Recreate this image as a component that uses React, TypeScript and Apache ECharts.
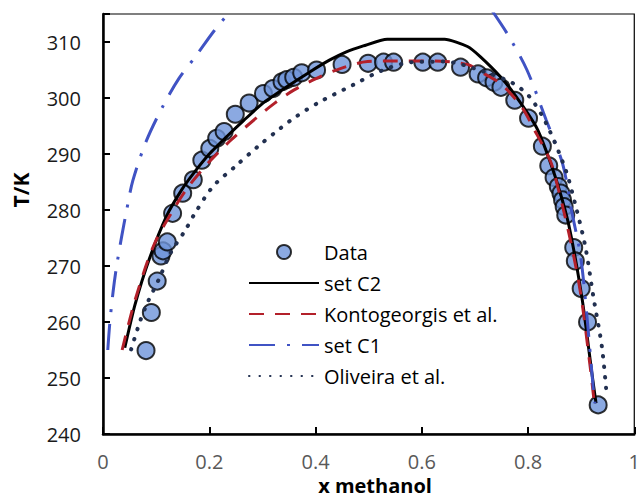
import React, { useEffect, useRef } from "react";
import * as echarts from "echarts";

const xTicks = [0, 0.2, 0.4, 0.6, 0.8, 1];
const yTicks = [240, 250, 260, 270, 280, 290, 300, 310];

const dataPoints: [number, number][] = [
  [0.081, 254.9], [0.091, 261.7], [0.102, 267.3], [0.109, 271.8], [0.113, 272.7],
  [0.121, 274.3], [0.131, 279.4], [0.150, 283.0], [0.170, 285.4], [0.186, 288.9],
  [0.201, 291.0], [0.214, 292.8], [0.228, 294.0], [0.249, 297.1], [0.275, 299.1],
  [0.302, 300.8], [0.320, 301.7], [0.337, 302.9], [0.346, 303.3], [0.359, 303.7],
  [0.374, 304.5], [0.402, 305.0], [0.450, 306.0], [0.499, 306.2], [0.528, 306.4],
  [0.547, 306.4], [0.602, 306.4], [0.630, 306.4], [0.673, 305.5], [0.706, 304.3],
  [0.722, 303.6], [0.736, 302.8], [0.749, 301.9], [0.775, 299.6], [0.801, 296.4],
  [0.827, 291.4], [0.839, 287.9], [0.849, 285.8], [0.857, 284.2], [0.862, 283.0],
  [0.865, 281.8], [0.868, 280.6], [0.871, 279.1], [0.886, 273.3], [0.889, 270.9],
  [0.900, 266.0], [0.912, 260.0], [0.932, 245.2],
];

const setC2: [number, number][] = [
  [0.041, 255.4], [0.06, 263.0], [0.087, 271.2], [0.12, 279.0], [0.148, 283.6],
  [0.17, 286.5], [0.2, 290.0], [0.235, 293.3], [0.265, 296.0], [0.3, 299.0],
  [0.346, 302.0], [0.39, 304.7], [0.427, 306.8], [0.457, 308.2], [0.49, 309.3],
  [0.535, 310.5], [0.643, 310.5], [0.686, 309.2], [0.71, 307.4], [0.748, 303.8],
  [0.778, 300.2], [0.815, 294.9], [0.834, 290.6], [0.856, 284.5], [0.877, 277.2],
  [0.902, 264.0], [0.92, 251.0], [0.928, 245.5],
];

const kontogeorgis: [number, number][] = [
  [0.036, 255.0], [0.06, 263.8], [0.096, 273.8], [0.136, 280.6], [0.161, 284.2],
  [0.2, 288.6], [0.241, 292.5], [0.288, 296.4], [0.322, 299.0], [0.359, 301.4],
  [0.402, 303.5], [0.448, 305.3], [0.498, 306.5], [0.55, 306.6], [0.624, 306.6],
  [0.686, 306.0], [0.71, 304.7], [0.748, 302.6], [0.788, 298.4], [0.812, 294.3],
  [0.834, 290.4], [0.846, 287.7], [0.877, 275.8], [0.899, 265.1], [0.917, 252.0],
  [0.924, 246.2],
];

const setC1Left: [number, number][] = [
  [0.009, 255.0], [0.013, 260.0], [0.019, 265.4], [0.025, 269.6], [0.035, 275.2],
  [0.044, 279.7], [0.056, 285.2], [0.081, 292.2], [0.112, 298.4], [0.143, 303.5],
  [0.174, 307.4], [0.21, 312.1], [0.24, 315.5],
];

const setC1Right: [number, number][] = [
  [0.733, 315.5], [0.762, 311.3], [0.798, 305.0], [0.834, 296.1], [0.865, 288.3],
  [0.883, 279.4], [0.899, 271.7], [0.911, 260.9], [0.923, 247.9], [0.926, 245.5],
];

const oliveira: [number, number][] = [
  [0.053, 255.1], [0.07, 260.2], [0.084, 263.5], [0.106, 267.8], [0.127, 272.3],
  [0.155, 276.4], [0.173, 279.4], [0.207, 284.2], [0.248, 287.7], [0.291, 291.3],
  [0.334, 294.6], [0.362, 296.6], [0.408, 299.3], [0.47, 302.3], [0.525, 304.9],
  [0.581, 306.4], [0.643, 306.5], [0.717, 304.7], [0.772, 302.6], [0.803, 300.2],
  [0.834, 295.5], [0.871, 287.1], [0.89, 280.6], [0.908, 273.4], [0.923, 264.5],
  [0.939, 255.6], [0.948, 247.0],
];

const legendNames = ["Data", "set C2", "Kontogeorgis et al.", "set C1", "Oliveira et al."];

const FONT = '"Open Sans", "Noto Sans", sans-serif';
const HIDDEN_ITEM = { color: "rgba(0,0,0,0)", borderColor: "rgba(0,0,0,0)", borderWidth: 0 };

export default function App() {
  const ref = useRef<HTMLDivElement>(null);
  useEffect(() => {
    if (!ref.current) return;
    const chart = echarts.init(ref.current, null, { renderer: "svg" });
    const blueC1 = "#4053c4";
    chart.setOption({
      animation: false,
      backgroundColor: "#ffffff",
      grid: {
        left: 103,
        top: 14,
        width: 540,
        height: 420,
        show: true,
        borderColor: "#000",
        borderWidth: 1.2,
        containLabel: false,
      },
      xAxis: {
        type: "value",
        min: xTicks[0],
        max: xTicks[xTicks.length - 1],
        interval: 0.2,
        axisLine: { show: true, lineStyle: { color: "#000", width: 2.5 } },
        axisTick: { show: true, inside: true, length: 7, lineStyle: { color: "#000", width: 2 } },
        axisLabel: { color: "#595959", fontSize: 20, lineHeight: 20, margin: 17, fontFamily: FONT, showMaxLabel: true },
        splitLine: { show: false },
      },
      yAxis: {
        type: "value",
        min: yTicks[0],
        max: 315,
        interval: 10,
        axisLine: { show: true, lineStyle: { color: "#000", width: 2.5 } },
        axisTick: { show: true, inside: true, length: 7, lineStyle: { color: "#000", width: 2 } },
        axisLabel: {
          color: "#1a1a1a",
          fontSize: 20,
          margin: 22,
          fontFamily: FONT,
          formatter: (v: number) => (yTicks.includes(v) ? String(v) : ""),
        },
        splitLine: { show: false },
      },
      legend: {
        orient: "vertical",
        left: 243,
        top: 237,
        itemWidth: 70,
        itemHeight: 14,
        itemGap: 11,
        data: legendNames,
        textStyle: { fontSize: 20, lineHeight: 20, color: "#000", fontFamily: FONT },
        selectedMode: false,
      },
      graphic: [
        {
          type: "text",
          x: 21,
          y: 190,
          rotation: Math.PI / 2,
          style: {
            text: "T/K",
            font: `bold 21px ${FONT}`,
            fill: "#000",
            align: "center",
            verticalAlign: "middle",
          },
        },
        {
          type: "text",
          x: 375,
          y: 485,
          style: {
            text: "x methanol",
            font: `bold 20px ${FONT}`,
            lineHeight: 18,
            fill: "#000",
            align: "center",
            verticalAlign: "middle",
          },
        },
      ],
      series: [
        {
          name: "Data",
          type: "scatter",
          data: dataPoints,
          symbol: "circle",
          symbolSize: 17,
          z: 1,
          itemStyle: { color: "#6e93d9", borderColor: "#000", borderWidth: 2 },
        },
        {
          name: "set C2",
          type: "line",
          data: setC2,
          symbol: "none",
          smooth: 0.2,
          z: 2,
          itemStyle: HIDDEN_ITEM,
          lineStyle: { color: "#000", width: 3 },
        },
        {
          name: "Kontogeorgis et al.",
          type: "line",
          data: kontogeorgis,
          symbol: "none",
          smooth: 0.3,
          z: 3,
          itemStyle: HIDDEN_ITEM,
          lineStyle: { color: "#b3202a", width: 3, type: [15, 11] },
        },
        {
          name: "set C1",
          type: "line",
          data: setC1Left,
          symbol: "none",
          smooth: 0.3,
          z: 3,
          itemStyle: HIDDEN_ITEM,
          lineStyle: { color: blueC1, width: 3, type: [26, 12, 3, 12] },
        },
        {
          name: "set C1",
          type: "line",
          data: setC1Right,
          symbol: "none",
          smooth: 0.3,
          z: 3,
          itemStyle: HIDDEN_ITEM,
          lineStyle: { color: blueC1, width: 3, type: [26, 12, 3, 12] },
        },
        {
          name: "Oliveira et al.",
          type: "line",
          data: oliveira,
          symbol: "none",
          smooth: 0.3,
          z: 3,
          itemStyle: HIDDEN_ITEM,
          lineStyle: { color: "#223050", width: 4, type: [0.5, 10], cap: "round" },
        },
      ],
    });
    return () => chart.dispose();
  }, []);
  return (
    <div
      ref={ref}
      style={{ position: "fixed", left: 0, top: 0, width: 643, height: 497, background: "#fff" }}
    />
  );
}
